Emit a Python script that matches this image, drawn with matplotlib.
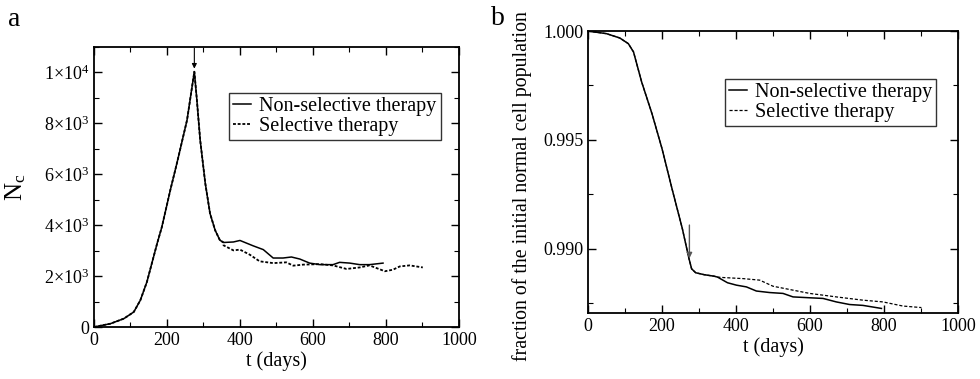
import numpy as np
import matplotlib
matplotlib.use("Agg")
import matplotlib.pyplot as plt
from matplotlib.ticker import MultipleLocator, FixedLocator

plt.rcParams["font.family"] = ["Liberation Serif", "DejaVu Serif"]
plt.rcParams["mathtext.fontset"] = "custom"
plt.rcParams["mathtext.rm"] = "Liberation Serif"
plt.rcParams["mathtext.it"] = "Liberation Serif:italic"

# panel a: number of cancer cells N_c
t_rise = [0, 45, 82, 109, 127, 145, 173, 186, 209, 227, 255, 275,
          282, 291, 305, 318, 332, 345, 355]
nc_rise = [0, 130, 330, 590, 1050, 1770, 3280, 3930, 5370, 6420, 8130, 10030,
           8910, 7340, 5640, 4460, 3800, 3410, 3320]

t_ns_a = [355, 382, 400, 436, 464, 491, 518, 541, 564, 591, 619, 655, 673, 701, 728, 755, 792]
nc_ns = [3320, 3340, 3400, 3190, 3040, 2710, 2710, 2750, 2670, 2510, 2450, 2450, 2540, 2510, 2450, 2450, 2510]

t_s_a = [355, 382, 400, 427, 454, 491, 527, 546, 573, 619, 655, 692, 728, 755, 797, 819, 838, 865, 901]
nc_s = [3210, 3010, 3040, 2840, 2580, 2510, 2540, 2410, 2450, 2470, 2420, 2280, 2340, 2420, 2190, 2250, 2380, 2420, 2340]

# panel b: fraction of the initial normal cell population
t_fall = [0, 50, 86, 109, 123, 145, 173, 200, 227, 255, 273, 280, 291, 314, 341, 350]
fr_fall = [1.0, 0.99988, 0.99968, 0.99942, 0.99904, 0.99766, 0.99620, 0.99460,
           0.99276, 0.99092, 0.98954, 0.98908, 0.98890, 0.98881, 0.98874, 0.98870]

t_ns_b = [350, 377, 401, 428, 455, 491, 527, 554, 599, 635, 671, 707, 743, 793]
fr_ns = [0.98870, 0.98844, 0.98833, 0.98825, 0.98806, 0.98799, 0.98795, 0.98779,
         0.98775, 0.98772, 0.98756, 0.98744, 0.98740, 0.98726]

t_s_b = [350, 365, 419, 464, 500, 545, 599, 671, 743, 797, 851, 901]
fr_s = [0.98870, 0.98868, 0.98863, 0.98856, 0.98828, 0.98813, 0.98795, 0.98779,
        0.98764, 0.98756, 0.98737, 0.98730]

a_ticks = [0, 2000, 4000, 6000, 8000, 10000]
a_ticklabels = ["0", r"$\mathregular{2{\times}10^3}$", r"$\mathregular{4{\times}10^3}$",
                r"$\mathregular{6{\times}10^3}$", r"$\mathregular{8{\times}10^3}$",
                r"$\mathregular{1{\times}10^4}$"]
b_ticks = [0.990, 0.995, 1.000]
b_ticklabels = ["0.990", "0.995", "1.000"]

fig = plt.figure(figsize=(9.8, 3.79), dpi=100)
ax1 = fig.add_axes([0.0959, 0.1372, 0.3724, 0.7388])
ax2 = fig.add_axes([0.600, 0.1741, 0.3776, 0.7440])

ax1.plot(t_rise + t_s_a, nc_rise + nc_s, color="black", lw=1.3,
         ls=(0, (1.6, 1.0)), label="Selective therapy")
ax1.plot(t_rise + t_ns_a[1:], nc_rise + nc_ns[1:], color="black", lw=1.1,
         label="Non-selective therapy")
ax1.annotate("", xy=(275, 10150), xytext=(275, 10950),
             arrowprops=dict(arrowstyle="-|>", color="black", lw=0.8,
                             mutation_scale=7, shrinkA=0, shrinkB=0))
ax1.set_xlim(0, 1000)
ax1.set_ylim(0, 11000)
ax1.yaxis.set_major_locator(FixedLocator(a_ticks))
ax1.set_yticklabels(a_ticklabels)
ax1.yaxis.set_minor_locator(MultipleLocator(1000))
ax1.set_xlabel("t (days)", fontsize=14.5, labelpad=2)
ax1.set_ylabel(r"$\mathregular{N_c}$", fontsize=18)
ax1.yaxis.set_label_coords(-0.18, 0.5)

ax2.plot(t_fall + t_s_b[1:], fr_fall + fr_s[1:], color="black", lw=0.9,
         ls=(0, (2.5, 1.5)), label="Selective therapy")
ax2.plot(t_fall + t_ns_b[1:], fr_fall + fr_ns[1:], color="black", lw=1.1,
         label="Non-selective therapy")
ax2.annotate("", xy=(274, 0.98956), xytext=(274, 0.99109),
             arrowprops=dict(arrowstyle="-|>", color="#555555", lw=1.0,
                             mutation_scale=8, shrinkA=0, shrinkB=0))
ax2.set_xlim(0, 1000)
ax2.set_ylim(0.98705, 1.000)
ax2.yaxis.set_major_locator(FixedLocator(b_ticks))
ax2.set_yticklabels(b_ticklabels)
ax2.yaxis.set_minor_locator(MultipleLocator(0.0025))
ax2.set_xlabel("t (days)", fontsize=14.5, labelpad=2)
ax2.set_ylabel("fraction of the initial normal cell population", fontsize=14.3)
ax2.yaxis.set_label_coords(-0.152, 0.45)

for ax in (ax1, ax2):
    ax.xaxis.set_major_locator(MultipleLocator(200))
    ax.xaxis.set_minor_locator(MultipleLocator(100))
    ax.tick_params(which="both", direction="in", top=True, right=True, labelsize=13)
    ax.tick_params(which="major", length=6, width=1.0)
    ax.tick_params(which="minor", length=3.5, width=0.8)
    for s in ax.spines.values():
        s.set_linewidth(1.3)
    h, l = ax.get_legend_handles_labels()
    leg = ax.legend(h[::-1], l[::-1], fontsize=14.5, frameon=True, fancybox=False,
                    edgecolor="black", handlelength=0.9, handletextpad=0.4,
                    borderpad=0.2, labelspacing=0.05, borderaxespad=0.0,
                    loc="upper left")
    leg.get_frame().set_linewidth(1.0)

ax1.get_legend().set_bbox_to_anchor((0.37, 0.835))
ax2.get_legend().set_bbox_to_anchor((0.37, 0.83))

fig.text(0.008, 0.932, "a", fontsize=20)
fig.text(0.501, 0.935, "b", fontsize=20)

fig.savefig("out.png", dpi=100)
